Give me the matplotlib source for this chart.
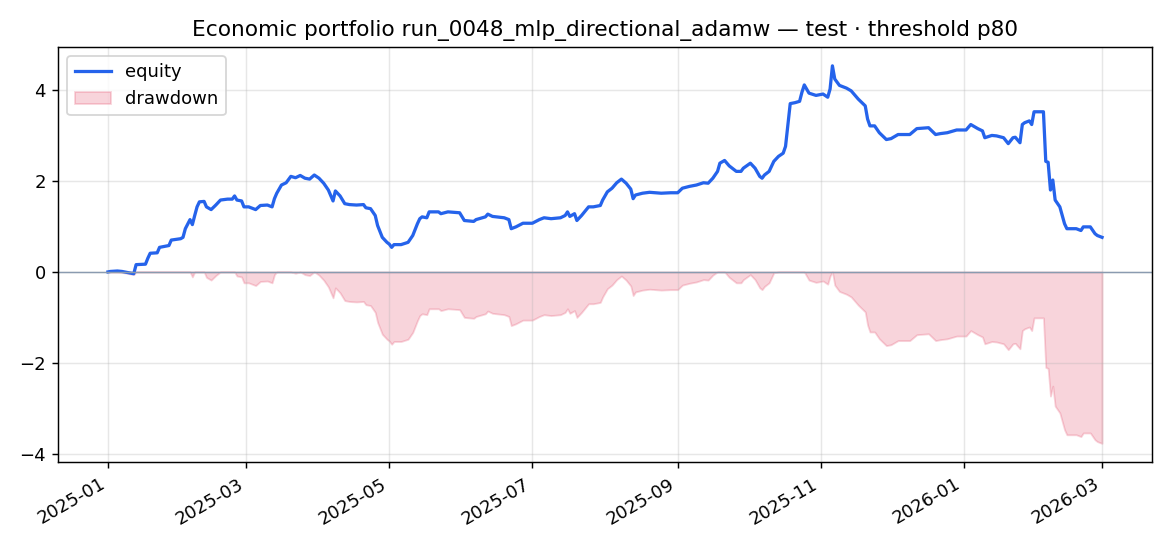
import matplotlib
matplotlib.use("Agg")
import matplotlib.pyplot as plt
import matplotlib.dates as mdates
import numpy as np
import pandas as pd

START = "2025-01-01"
TITLE = "Economic portfolio run_0048_mlp_directional_adamw \u2014 test \u00b7 threshold p80"

# days since start
day_offsets = [
    0, 1, 4, 6, 8, 11, 12, 16, 17, 18, 21, 22, 26, 27, 31, 32, 33, 35, 36, 37,
    38, 39, 41, 42, 44, 46, 48, 51, 53, 54, 55, 57, 58, 60, 63, 65, 68, 70, 71, 72,
    74, 76, 78, 80, 82, 84, 86, 88, 90, 92, 94, 96, 97, 99, 101, 103, 106, 109, 110, 112,
    114, 115, 117, 119, 120, 121, 122, 125, 128, 130, 132, 133, 134, 136, 137, 141, 142, 145, 150, 152,
    156, 157, 161, 162, 164, 169, 171, 172, 174, 177, 181, 184, 186, 189, 193, 195, 196, 197, 199, 200,
    202, 205, 207, 210, 211, 213, 215, 217, 219, 221, 223, 224, 225, 228, 231, 236, 240, 243, 245, 248,
    251, 254, 256, 258, 260, 261, 263, 265, 268, 270, 271, 274, 276, 278, 279, 280, 282, 284, 286, 288,
    289, 290, 291, 293, 295, 296, 297, 299, 302, 305, 307, 308, 309, 310, 312, 315, 317, 320, 323, 324,
    325, 327, 329, 332, 334, 337, 342, 345, 350, 353, 355, 358, 362, 366, 368, 371, 373, 374, 377, 379,
    382, 384, 386, 387, 389, 390, 391, 393, 394, 395, 399, 400, 401, 402, 403, 404, 406, 408, 409, 413,
    415, 416, 419, 421, 422, 424,
]

equity = [
    0.00, 0.01, 0.02, 0.01, -0.01, -0.04, 0.16, 0.17, 0.30, 0.41, 0.42, 0.54, 0.58, 0.70, 0.73, 0.76, 0.95, 1.15, 1.04, 1.24,
    1.43, 1.54, 1.55, 1.43, 1.37, 1.47, 1.58, 1.60, 1.60, 1.67, 1.58, 1.56, 1.43, 1.43, 1.37, 1.46, 1.47, 1.43, 1.61, 1.73,
    1.91, 1.96, 2.10, 2.07, 2.12, 2.06, 2.04, 2.13, 2.06, 1.95, 1.80, 1.56, 1.78, 1.67, 1.50, 1.48, 1.47, 1.48, 1.41, 1.39,
    1.24, 1.02, 0.76, 0.65, 0.61, 0.54, 0.60, 0.60, 0.65, 0.80, 1.06, 1.17, 1.21, 1.19, 1.32, 1.32, 1.28, 1.32, 1.30, 1.13,
    1.11, 1.15, 1.21, 1.27, 1.22, 1.19, 1.15, 0.95, 0.99, 1.07, 1.07, 1.15, 1.19, 1.17, 1.19, 1.24, 1.32, 1.22, 1.28, 1.13,
    1.24, 1.43, 1.43, 1.46, 1.58, 1.76, 1.84, 1.96, 2.04, 1.95, 1.82, 1.61, 1.69, 1.73, 1.75, 1.73, 1.74, 1.74, 1.84, 1.88,
    1.91, 1.96, 1.95, 2.06, 2.21, 2.39, 2.45, 2.33, 2.21, 2.21, 2.28, 2.39, 2.28, 2.10, 2.06, 2.13, 2.21, 2.43, 2.54, 2.61,
    2.76, 3.22, 3.70, 3.72, 3.75, 3.95, 4.11, 3.93, 3.88, 3.91, 3.84, 4.02, 4.53, 4.24, 4.10, 4.04, 3.98, 3.80, 3.65, 3.36,
    3.21, 3.21, 3.06, 2.91, 2.93, 3.02, 3.02, 3.15, 3.17, 3.02, 3.04, 3.06, 3.12, 3.12, 3.24, 3.15, 3.10, 2.95, 3.00, 2.99,
    2.95, 2.82, 2.95, 2.96, 2.84, 3.24, 3.28, 3.32, 3.24, 3.52, 3.52, 2.43, 2.41, 1.80, 2.02, 1.58, 1.43, 1.06, 0.95, 0.95,
    0.91, 0.99, 0.99, 0.84, 0.80, 0.76,
]

dates = pd.Timestamp(START) + pd.to_timedelta(day_offsets, unit="D")
eq = pd.Series(equity, index=dates)
drawdown = eq - eq.cummax()

fig, ax = plt.subplots(figsize=(9, 4.2), dpi=130)
fig.subplots_adjust(left=0.0498, right=0.9844, bottom=0.1533, top=0.914)

ax.plot(eq.index, eq.values, color="#2563eb", linewidth=1.8, label="equity")
ax.fill_between(drawdown.index, drawdown.values, 0, color="crimson", alpha=0.18, label="drawdown")
ax.axhline(0, color="#8a9bb0", linewidth=0.8)

ax.set_title(TITLE)
ax.grid(True, alpha=0.3)
ax.legend(loc="upper left")
ax.xaxis.set_major_locator(mdates.MonthLocator(bymonth=[1, 3, 5, 7, 9, 11]))
ax.xaxis.set_major_formatter(mdates.DateFormatter("%Y-%m"))
fig.autofmt_xdate()
fig.subplots_adjust(left=0.0498, right=0.9844, bottom=0.1533, top=0.914)

fig.savefig("out.png", dpi=130)
